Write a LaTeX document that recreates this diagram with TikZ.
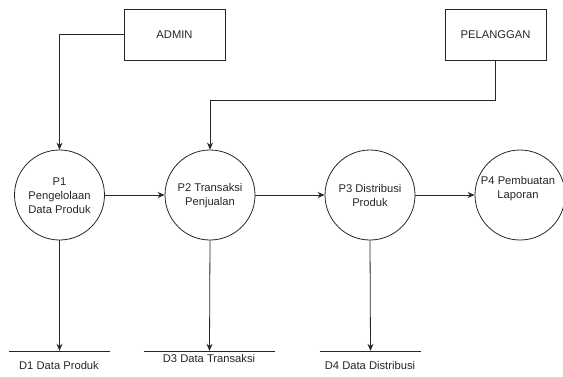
\documentclass[tikz,border=0pt]{standalone}
\usepackage{fontspec}
\setmainfont{Liberation Sans}
\usetikzlibrary{arrows.meta}
\begin{document}
\begin{tikzpicture}[x=1pt,y=-1pt,
  every node/.style={font=\fontsize{11.2}{14}\selectfont, text=black!85},
  ext/.style={draw=black!85, line width=0.8pt, minimum width=101pt, minimum height=51pt, inner sep=0pt},
  proc/.style={draw=black!85, line width=0.8pt, circle, minimum size=90pt, inner sep=0pt},
  storeline/.style={minimum height=0pt, inner sep=0pt},
  flow/.style={draw=black!85, line width=0.8pt, -{Stealth[length=7pt,width=6pt]}},
  plain/.style={draw=black!85, line width=0.8pt}]
\useasboundingbox (0,0) rectangle (563,376);
\node[ext] (admin) at (174.5,34.5) {ADMIN};
\node[ext] (pel) at (495.5,34.5) {PELANGGAN};
\node[proc] (p1) at (59.5,195) {};
\node[align=center] (t1) at (59.5,196) {P1\\Pengelolaan\\Data Produk};
\node[proc] (p2) at (210,195) {};
\node[align=center] (t2) at (210,195.5) {P2 Transaksi\\Penjualan};
\node[proc] (p3) at (370,195) {};
\node[align=center] (t3) at (370,195.5) {P3 Distribusi\\Produk};
\node[proc] (p4) at (520,195) {};
\node[align=center] (t4) at (518,188.5) {P4 Pembuatan\\Laporan};
\node[storeline, minimum width=101pt] (d1) at (59.5,351) {};
\node[storeline, minimum width=131pt] (d3) at (209.5,351) {};
\node[storeline, minimum width=101pt] (d4) at (370.5,351) {};
\draw[plain] (d1.west) -- (d1.east);
\draw[plain] (d3.west) -- (d3.east);
\draw[plain] (d4.west) -- (d4.east);
\node (l1) at (59,365) {D1 Data Produk};
\node (l3) at (209,358) {D3 Data Transaksi};
\node (l4) at (370,365) {D4 Data Distribusi};
\coordinate (j) at (210,100);
\draw[flow] (admin.west) -| (p1.north);
\draw[plain] (pel.south) |- (j);
\draw[flow] (j) -- (p2.north);
\draw[flow] (p1.east) -- (p2.west);
\draw[flow] (p2.east) -- (p3.west);
\draw[flow] (p3.east) -- (p4.west);
\draw[flow] (p1.south) -- (d1.north);
\draw[flow] (p2.south) -- (d3.north);
\draw[flow] (p3.south) -- (d4.north);
\end{tikzpicture}
\end{document}
